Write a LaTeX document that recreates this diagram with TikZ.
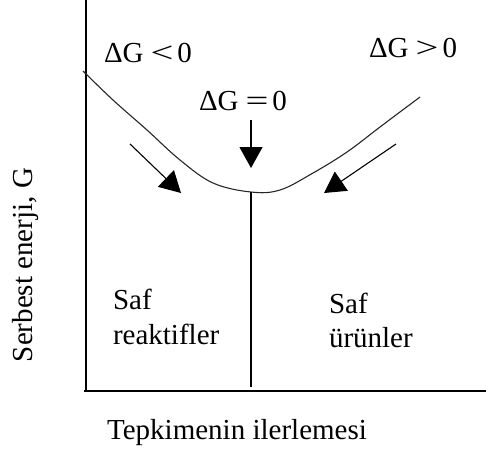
\documentclass[tikz,border=0pt]{standalone}
\usepackage{graphicx}
\usepackage{fontspec}
\setmainfont{Liberation Serif}
\usetikzlibrary{arrows.meta}
\tikzset{
  lbl/.style={inner sep=0pt, outer sep=0pt, font=\fontsize{29}{33}\selectfont},
  axisline/.style={line width=1.8pt, black},
  curveline/.style={line width=1.1pt, black!85},
  bigarrow/.style={line width=1.1pt, -{Triangle[length=21pt,width=23pt]}},
}
\newcommand{\myrel}[1]{\hspace{7pt}\scalebox{1.4}[1]{#1}\hspace{4pt}}
\begin{document}
\begin{tikzpicture}[x=1pt,y=-1pt]
\useasboundingbox (0,0) rectangle (486,448);
% axes
\coordinate (ytop) at (86,0);
\coordinate (origin) at (86,391);
\coordinate (xend) at (486,391);
\coordinate (xstart) at (84,391);
\draw[axisline] (ytop) -- (origin);
\draw[axisline] (xstart) -- (xend);
% curve
\draw[curveline] plot[smooth, tension=0.6] coordinates {(83,71) (113,100) (147,130) (180,160) (213,183) (251,192) (280,190) (313,173) (347,152) (380,127) (420,97)};
% middle line
\coordinate (cmin) at (251,192);
\coordinate (cbot) at (251,387);
\draw[line width=1.5pt] (cmin) -- (cbot);
% arrows
\coordinate (la0) at (130,144);
\coordinate (la1) at (181,193);
\coordinate (ra0) at (396,144);
\coordinate (ra1) at (324,193);
\coordinate (ma0) at (251,120);
\coordinate (ma1) at (251,168);
\draw[bigarrow] (la0) -- (la1);
\draw[bigarrow] (ra0) -- (ra1);
\draw[bigarrow] (ma0) -- (ma1);
% labels
\node[lbl, anchor=base] (dgl) at (148,62) {ΔG\myrel{<}0};
\node[lbl, anchor=base] (dgr) at (413,57) {ΔG\myrel{>}0};
\node[lbl, anchor=base] (dgm) at (243,110) {ΔG\myrel{=}0};
\node[lbl, anchor=base west] (saf1) at (113,309) {Saf};
\node[lbl, anchor=base west] (reak) at (113,344) {reaktifler};
\node[lbl, anchor=base west] (saf2) at (329,313) {Saf};
\node[lbl, anchor=base west] (urun) at (329,347) {ürünler};
\node[lbl, anchor=base] (xlab) at (237,439) {Tepkimenin ilerlemesi};
\node[lbl, anchor=base, rotate=90] (ylab) at (32,265) {Serbest enerji, G};
\end{tikzpicture}
\end{document}
